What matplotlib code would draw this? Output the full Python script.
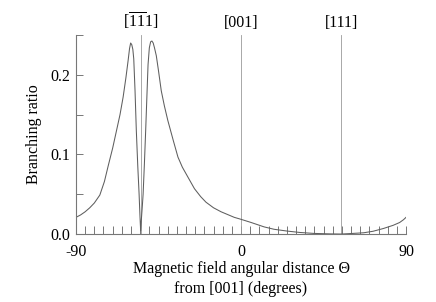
import numpy as np
import matplotlib
matplotlib.use("Agg")
import matplotlib.pyplot as plt
from matplotlib.ticker import MultipleLocator, FuncFormatter

# angle of the magnetic field from [001] (degrees) and branching ratio
theta = [-90, -87.5, -85, -82.5, -80, -77, -74.5, -72.4, -70, -67.9, -66, -64.3, -62.8,
         -61.6, -60.8, -60.2, -59.6, -59.0, -58.5, -57.8, -57.1, -56.3, -55.6, -55.1,
         -54.74, -54.3, -53.8, -53.4, -52.7, -52.0, -51.3, -50.7, -50.0, -49.3, -48.6,
         -47.9, -47.2, -46.2, -45.0, -43.5, -41.8, -39.9, -37.0, -34.4, -32.0, -29.0,
         -25.4, -22.0, -19.1, -15.0, -10.9, -3.7, 0, 5.4, 12.6, 18.0, 25.3, 32.0, 39.7,
         48.8, 54.74, 61.0, 66.9, 72.0, 77.7, 83, 86.5, 88.6, 90]
ratio = [0.021, 0.024, 0.028, 0.033, 0.039, 0.049, 0.066, 0.086, 0.108, 0.130, 0.150, 0.172, 0.196,
         0.2175, 0.233, 0.240, 0.238, 0.232, 0.220, 0.180, 0.130, 0.085, 0.051, 0.022,
         0.004, 0.020, 0.036, 0.050, 0.088, 0.130, 0.175, 0.213, 0.234, 0.2415, 0.2425,
         0.240, 0.234, 0.224, 0.205, 0.180, 0.161, 0.1425, 0.118, 0.0967, 0.084, 0.0717,
         0.057, 0.047, 0.040, 0.033, 0.028, 0.021, 0.0185, 0.0146, 0.009, 0.006, 0.0037, 0.002, 0.0008,
         0.0002, 0.0, 0.0008, 0.0016, 0.0035, 0.007, 0.011, 0.0145, 0.018, 0.021]

# crystal directions marked with vertical lines
dir_pos = [-54.74, 0, 54.74]
dir_labels = [r"[$\overline{\mathrm{11}}$1]", "[001]", "[111]"]

plt.rcParams["font.family"] = "Liberation Serif"
plt.rcParams["mathtext.fontset"] = "custom"
plt.rcParams["mathtext.rm"] = "Liberation Serif"
plt.rcParams["font.size"] = 11.5

fig = plt.figure(figsize=(4.36, 3.02), dpi=100)
ax = fig.add_axes([0.1743, 0.225, 0.757, 0.659])

grey = "#777777"
for x, lab in zip(dir_pos, dir_labels):
    ax.axvline(x, color="#9a9a9a", lw=0.6)
    ax.text(x, 1.02, lab, transform=ax.get_xaxis_transform(), ha="center", va="bottom")

ax.plot(theta, ratio, color="#5e5e5e", lw=0.75)

ax.set_xlim(-90, 90)
ax.set_ylim(0, 0.25)
ax.xaxis.set_major_locator(MultipleLocator(5))
ax.yaxis.set_major_locator(MultipleLocator(0.05))
ax.xaxis.set_major_formatter(FuncFormatter(lambda v, p: f"{v:.0f}" if round(v) in (-90, 0, 90) else ""))
ax.yaxis.set_major_formatter(FuncFormatter(lambda v, p: f"{v:.1f}" if round(v * 100) % 10 == 0 and v < 0.24 else ""))

ax.spines["top"].set_visible(False)
ax.spines["right"].set_visible(False)
for s in ["left", "bottom"]:
    ax.spines[s].set_color(grey)
    ax.spines[s].set_linewidth(0.8)
ax.tick_params(axis="x", direction="in", length=6, width=0.7, color=grey, pad=7)
ax.tick_params(axis="y", direction="in", length=5, width=0.7, color=grey, pad=4)

ax.set_xlabel("Magnetic field angular distance \u0398\nfrom [001] (degrees)", linespacing=1.35, labelpad=1)
ax.set_ylabel("Branching ratio", labelpad=6)

fig.savefig("out.png", dpi=100)
